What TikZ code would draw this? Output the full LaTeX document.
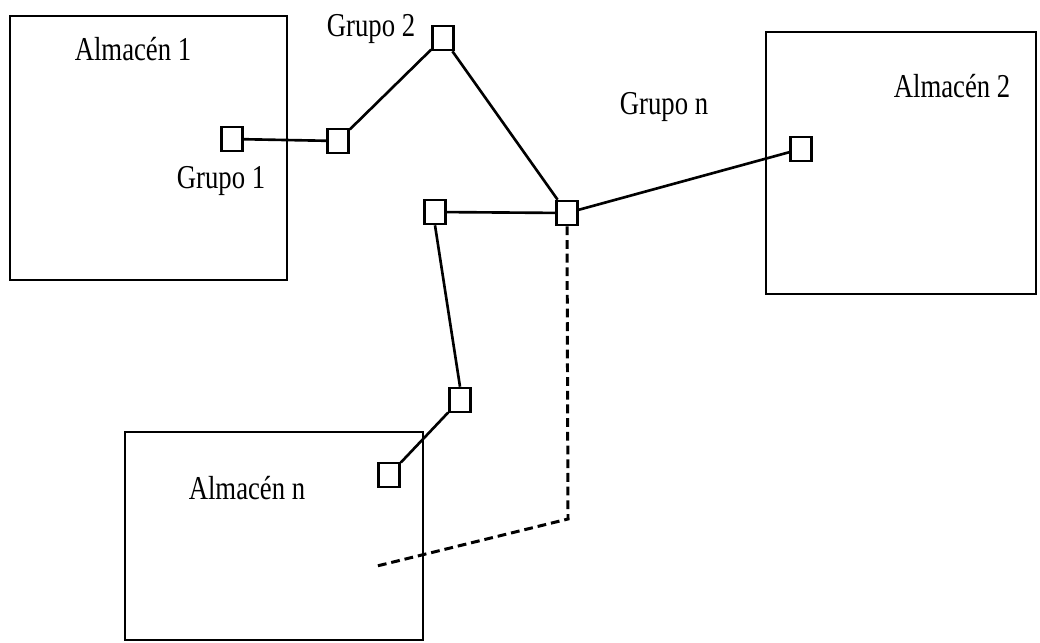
\documentclass[tikz,border=0pt]{standalone}
\usepackage{fontspec}
\setmainfont{Liberation Serif}[FakeStretch=0.8]
\usepackage{tikz}
\usetikzlibrary{arrows.meta,calc}

\begin{document}
\begin{tikzpicture}[x=0.02cm,y=-0.02cm,line width=1.5pt,
 font=\fontsize{19}{22}\selectfont,
 grp/.style={draw,minimum width=0.42cm,minimum height=0.48cm,inner sep=0pt},
 lbl/.style={anchor=base,inner sep=0pt},
 lnk/.style={line width=1.7pt,dash pattern=on 5pt off 2.8pt}]
\useasboundingbox (0,0) rectangle (1040,642);
\draw (10,16) rectangle (287,280);
\draw (766,32) rectangle (1036,294);
\draw (125,432) rectangle (423,640);
\node[lbl] (alm1) at (133,61) {Almacén 1};
\node[lbl] (alm2) at (952,97) {Almacén 2};
\node[lbl] (almn) at (247,499) {Almacén n};
\node[lbl] (lg1) at (221,188) {Grupo 1};
\node[lbl] (lg2) at (371,37) {Grupo 2};
\node[lbl] (lgn) at (664,114) {Grupo n};
\node[grp] (g1a) at (232,139) {};
\node[grp] (g1b) at (338,141) {};
\node[grp] (g2) at (443,38) {};
\node[grp] (gn) at (567,213) {};
\node[grp] (gm) at (435,212) {};
\node[grp] (ga2) at (801,149) {};
\node[grp] (gc1) at (460,400) {};
\node[grp] (gc2) at (389,475) {};
\draw (g1a) -- (g1b);
\draw (g1b) -- (g2);
\draw (g2) -- (gn);
\draw (gm) -- (gn);
\draw (gn) -- (ga2);
\draw (gm.south) -- (gc1.north);
\draw (gc1) -- (gc2);
\coordinate (bend) at (568,519);
\coordinate (dend) at (377,566);
\draw[lnk] (gn.south) -- (bend) -- (dend);
\end{tikzpicture}
\end{document}
